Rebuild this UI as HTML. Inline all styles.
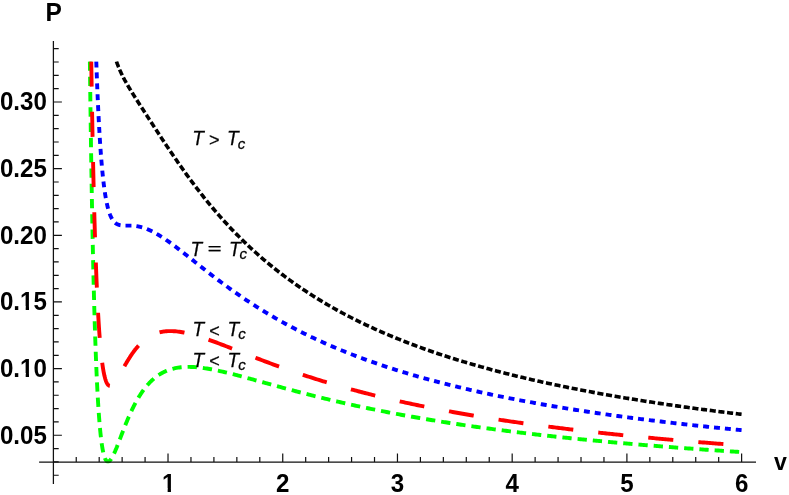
<!DOCTYPE html>
<html><head><meta charset="utf-8"><title>P-v diagram</title>
<style>
html,body{margin:0;padding:0;background:#fff;}
body{width:789px;height:495px;overflow:hidden;}
svg{display:block;will-change:transform;}
text{font-family:"Liberation Sans",sans-serif;fill:#000;}
.tk{font-weight:bold;font-size:24.5px;}
.lb{font-style:italic;font-size:19px;stroke:#000;stroke-width:0.25px;}
.sb{font-size:15px;}
</style></head><body>
<svg width="789" height="495" viewBox="0 0 789 495">
<rect width="789" height="495" fill="#fff"/>
<defs><clipPath id="cp"><rect x="0" y="61.30" width="789" height="402.30"/></clipPath></defs>
<g fill="none" stroke-width="3.9" clip-path="url(#cp)"><g transform="translate(0 0.2)">
<path stroke="#000" stroke-width="3.6" stroke-dasharray="6.1 2.643" d="M116.47 61.30 L116.60 61.67 L116.73 62.03 L116.86 62.39 L116.99 62.74 L117.12 63.10 L117.24 63.45 L117.37 63.79 L117.50 64.13 L117.63 64.47 L117.76 64.81 L117.89 65.15 L118.02 65.48 L118.15 65.80 L118.28 66.13 L118.41 66.45 L118.53 66.77 L118.66 67.09 L118.79 67.41 L118.92 67.72 L119.05 68.03 L119.18 68.34 L119.31 68.64 L119.44 68.94 L119.57 69.24 L119.70 69.54 L119.82 69.84 L119.95 70.13 L120.08 70.42 L120.21 70.71 L120.34 71.00 L120.47 71.29 L120.60 71.57 L120.73 71.85 L120.86 72.14 L120.98 72.41 L121.11 72.69 L121.24 72.97 L121.37 73.24 L121.50 73.51 L121.63 73.78 L121.76 74.05 L121.89 74.31 L122.02 74.58 L122.15 74.84 L122.27 75.11 L122.40 75.37 L122.53 75.63 L122.66 75.88 L122.79 76.14 L122.92 76.40 L123.05 76.65 L123.18 76.90 L123.31 77.15 L123.44 77.40 L123.56 77.65 L123.69 77.90 L123.82 78.15 L123.95 78.39 L124.08 78.64 L124.21 78.88 L124.34 79.12 L124.47 79.36 L124.60 79.60 L124.72 79.84 L124.85 80.08 L124.98 80.32 L125.11 80.55 L125.24 80.79 L125.37 81.02 L125.50 81.26 L125.63 81.49 L125.76 81.72 L125.89 81.95 L126.01 82.18 L126.14 82.41 L126.27 82.64 L126.40 82.87 L126.53 83.10 L126.66 83.32 L126.79 83.55 L126.92 83.77 L127.05 84.00 L127.18 84.22 L127.30 84.45 L127.43 84.67 L127.56 84.89 L127.69 85.11 L127.82 85.33 L127.95 85.55 L128.08 85.77 L128.21 85.99 L128.34 86.21 L128.47 86.43 L128.59 86.64 L128.72 86.86 L128.85 87.08 L128.98 87.29 L129.11 87.51 L129.24 87.72 L129.37 87.94 L129.50 88.15 L129.63 88.37 L129.75 88.58 L129.88 88.79 L130.01 89.01 L130.14 89.22 L130.27 89.43 L130.40 89.64 L130.53 89.85 L130.66 90.06 L130.79 90.27 L130.92 90.48 L131.04 90.69 L131.17 90.90 L131.30 91.11 L131.43 91.32 L131.56 91.53 L131.69 91.74 L131.82 91.94 L131.95 92.15 L132.08 92.36 L132.21 92.57 L132.33 92.77 L132.46 92.98 L132.59 93.19 L132.72 93.39 L132.85 93.60 L132.98 93.80 L133.11 94.01 L133.24 94.21 L133.37 94.42 L133.49 94.62 L133.62 94.83 L133.75 95.03 L133.88 95.24 L134.01 95.44 L134.14 95.64 L134.27 95.85 L134.40 96.05 L134.53 96.26 L134.66 96.46 L134.78 96.66 L134.91 96.86 L135.04 97.07 L135.17 97.27 L135.30 97.47 L135.43 97.67 L135.56 97.88 L135.69 98.08 L135.82 98.28 L135.95 98.48 L136.07 98.68 L136.20 98.89 L136.33 99.09 L136.46 99.29 L136.59 99.49 L136.72 99.69 L136.85 99.89 L136.98 100.09 L137.11 100.30 L137.24 100.50 L137.36 100.70 L137.49 100.90 L137.62 101.10 L137.75 101.30 L137.88 101.50 L138.01 101.70 L138.14 101.90 L138.27 102.10 L138.40 102.30 L138.52 102.50 L138.65 102.70 L138.78 102.90 L138.91 103.10 L139.04 103.30 L139.17 103.50 L139.30 103.70 L139.43 103.90 L139.56 104.10 L139.69 104.30 L139.81 104.50 L139.94 104.70 L140.07 104.90 L140.20 105.10 L140.33 105.30 L140.46 105.50 L140.59 105.70 L140.72 105.90 L140.85 106.09 L140.98 106.29 L141.10 106.49 L141.23 106.69 L141.36 106.89 L141.49 107.09 L141.62 107.29 L141.75 107.49 L141.88 107.69 L142.01 107.89 L142.14 108.09 L142.26 108.29 L142.39 108.48 L142.52 108.68 L142.65 108.88 L142.78 109.08 L142.91 109.28 L143.04 109.48 L143.17 109.68 L143.30 109.88 L143.43 110.08 L143.55 110.27 L143.68 110.47 L143.81 110.67 L143.94 110.87 L144.07 111.07 L144.20 111.27 L144.33 111.47 L144.46 111.67 L144.59 111.87 L144.72 112.06 L144.84 112.26 L144.97 112.46 L145.10 112.66 L145.23 112.86 L145.36 113.06 L145.49 113.26 L145.62 113.46 L145.75 113.65 L145.88 113.85 L146.01 114.05 L146.13 114.25 L146.26 114.45 L146.39 114.65 L146.52 114.85 L146.65 115.04 L146.78 115.24 L146.91 115.44 L147.04 115.64 L147.17 115.84 L147.29 116.04 L147.42 116.24 L147.55 116.43 L147.68 116.63 L147.81 116.83 L147.94 117.03 L148.07 117.23 L148.20 117.43 L148.33 117.63 L148.46 117.82 L148.58 118.02 L148.71 118.22 L148.84 118.42 L148.97 118.62 L149.10 118.82 L149.23 119.02 L149.36 119.21 L149.49 119.41 L149.62 119.61 L149.75 119.81 L149.87 120.01 L150.00 120.21 L150.13 120.40 L150.26 120.60 L150.39 120.80 L150.52 121.00 L150.65 121.20 L150.78 121.40 L150.91 121.59 L151.03 121.79 L151.16 121.99 L151.29 122.19 L151.42 122.39 L151.55 122.59 L151.68 122.78 L151.81 122.98 L151.94 123.18 L152.07 123.38 L152.20 123.58 L152.32 123.78 L152.45 123.97 L152.58 124.17 L152.71 124.37 L152.84 124.57 L152.97 124.77 L153.10 124.96 L153.23 125.16 L153.36 125.36 L153.49 125.56 L153.61 125.76 L153.74 125.95 L153.87 126.15 L154.00 126.35 L154.13 126.55 L154.26 126.74 L154.39 126.94 L154.52 127.14 L154.65 127.34 L154.78 127.54 L154.90 127.73 L155.03 127.93 L155.16 128.13 L155.29 128.33 L155.42 128.52 L155.55 128.72 L155.68 128.92 L155.81 129.12 L155.94 129.31 L156.06 129.51 L156.19 129.71 L156.32 129.91 L156.45 130.10 L156.58 130.30 L156.71 130.50 L156.84 130.70 L156.97 130.89 L157.10 131.09 L157.23 131.29 L157.35 131.48 L157.48 131.68 L157.61 131.88 L157.74 132.08 L157.87 132.27 L158.00 132.47 L158.13 132.67 L158.26 132.86 L158.39 133.06 L158.52 133.26 L158.64 133.45 L158.77 133.65 L158.90 133.85 L159.03 134.04 L159.16 134.24 L159.29 134.44 L159.42 134.63 L159.55 134.83 L159.68 135.02 L159.80 135.22 L159.93 135.42 L160.06 135.61 L160.19 135.81 L160.32 136.01 L160.45 136.20 L160.58 136.40 L160.71 136.59 L160.84 136.79 L160.97 136.99 L161.09 137.18 L161.22 137.38 L161.35 137.57 L161.48 137.77 L161.61 137.96 L161.74 138.16 L161.87 138.36 L162.00 138.55 L162.13 138.75 L162.26 138.94 L162.38 139.14 L162.51 139.33 L162.64 139.53 L162.77 139.72 L162.90 139.92 L163.03 140.11 L163.16 140.31 L163.29 140.50 L163.42 140.70 L163.55 140.89 L163.67 141.09 L163.80 141.28 L163.93 141.48 L164.06 141.67 L164.19 141.86 L164.32 142.06 L164.45 142.25 L164.58 142.45 L164.71 142.64 L164.83 142.84 L164.96 143.03 L165.09 143.22 L165.22 143.42 L165.35 143.61 L165.48 143.81 L165.61 144.00 L165.74 144.19 L165.87 144.39 L166.00 144.58 L166.12 144.77 L166.25 144.97 L166.38 145.16 L166.51 145.35 L166.64 145.55 L166.77 145.74 L166.90 145.93 L167.03 146.13 L167.16 146.32 L167.29 146.51 L167.41 146.70 L167.54 146.90 L167.67 147.09 L167.80 147.28 L167.93 147.47 L169.37 149.61 L170.81 151.74 L172.24 153.86 L173.68 155.97 L175.12 158.06 L176.56 160.15 L177.99 162.22 L179.43 164.28 L180.87 166.32 L182.31 168.35 L183.74 170.37 L185.18 172.38 L186.62 174.37 L188.06 176.34 L189.50 178.30 L190.93 180.25 L192.37 182.18 L193.81 184.09 L195.25 185.99 L196.68 187.87 L198.12 189.74 L199.56 191.60 L201.00 193.43 L202.44 195.26 L203.87 197.06 L205.31 198.85 L206.75 200.63 L208.19 202.39 L209.62 204.13 L211.06 205.86 L212.50 207.58 L213.94 209.27 L215.37 210.96 L216.81 212.62 L218.25 214.28 L219.69 215.91 L221.13 217.54 L222.56 219.15 L224.00 220.74 L225.44 222.32 L226.88 223.88 L228.31 225.43 L229.75 226.97 L231.19 228.49 L232.63 229.99 L234.07 231.49 L235.50 232.97 L236.94 234.43 L238.38 235.88 L239.82 237.32 L241.25 238.75 L242.69 240.16 L244.13 241.56 L245.57 242.94 L247.00 244.32 L248.44 245.68 L249.88 247.02 L251.32 248.36 L252.76 249.68 L254.19 250.99 L255.63 252.29 L257.07 253.58 L258.51 254.85 L259.94 256.12 L261.38 257.37 L262.82 258.61 L264.26 259.84 L265.69 261.06 L267.13 262.27 L268.57 263.46 L270.01 264.65 L271.45 265.82 L272.88 266.99 L274.32 268.14 L275.76 269.28 L277.20 270.42 L278.63 271.54 L280.07 272.65 L281.51 273.76 L282.95 274.85 L284.39 275.93 L285.82 277.01 L287.26 278.07 L288.70 279.13 L290.14 280.17 L291.57 281.21 L293.01 282.24 L294.45 283.26 L295.89 284.27 L297.32 285.27 L298.76 286.27 L300.20 287.25 L301.64 288.23 L303.08 289.20 L304.51 290.16 L305.95 291.11 L307.39 292.05 L308.83 292.99 L310.26 293.92 L311.70 294.84 L313.14 295.75 L314.58 296.66 L316.02 297.55 L317.45 298.44 L318.89 299.33 L320.33 300.20 L321.77 301.07 L323.20 301.93 L324.64 302.79 L326.08 303.64 L327.52 304.48 L328.95 305.31 L330.39 306.14 L331.83 306.96 L333.27 307.77 L334.71 308.58 L336.14 309.38 L337.58 310.18 L339.02 310.97 L340.46 311.75 L341.89 312.52 L343.33 313.30 L344.77 314.06 L346.21 314.82 L347.64 315.57 L349.08 316.32 L350.52 317.06 L351.96 317.79 L353.40 318.52 L354.83 319.25 L356.27 319.97 L357.71 320.68 L359.15 321.39 L360.58 322.09 L362.02 322.79 L363.46 323.48 L364.90 324.17 L366.34 324.85 L367.77 325.53 L369.21 326.20 L370.65 326.87 L372.09 327.53 L373.52 328.19 L374.96 328.84 L376.40 329.49 L377.84 330.13 L379.27 330.77 L380.71 331.40 L382.15 332.03 L383.59 332.66 L385.03 333.28 L386.46 333.89 L387.90 334.51 L389.34 335.11 L390.78 335.72 L392.21 336.32 L393.65 336.91 L395.09 337.50 L396.53 338.09 L397.97 338.67 L399.40 339.25 L400.84 339.82 L402.28 340.39 L403.72 340.96 L405.15 341.52 L406.59 342.08 L408.03 342.64 L409.47 343.19 L410.90 343.74 L412.34 344.28 L413.78 344.82 L415.22 345.36 L416.66 345.89 L418.09 346.42 L419.53 346.95 L420.97 347.47 L422.41 347.99 L423.84 348.51 L425.28 349.02 L426.72 349.53 L428.16 350.03 L429.59 350.54 L431.03 351.04 L432.47 351.53 L433.91 352.02 L435.35 352.51 L436.78 353.00 L438.22 353.49 L439.66 353.97 L441.10 354.44 L442.53 354.92 L443.97 355.39 L445.41 355.86 L446.85 356.32 L448.29 356.79 L449.72 357.25 L451.16 357.70 L452.60 358.16 L454.04 358.61 L455.47 359.06 L456.91 359.50 L458.35 359.95 L459.79 360.39 L461.22 360.82 L462.66 361.26 L464.10 361.69 L465.54 362.12 L466.98 362.55 L468.41 362.97 L469.85 363.40 L471.29 363.82 L472.73 364.23 L474.16 364.65 L475.60 365.06 L477.04 365.47 L478.48 365.88 L479.92 366.28 L481.35 366.68 L482.79 367.09 L484.23 367.48 L485.67 367.88 L487.10 368.27 L488.54 368.66 L489.98 369.05 L491.42 369.44 L492.85 369.82 L494.29 370.21 L495.73 370.59 L497.17 370.96 L498.61 371.34 L500.04 371.71 L501.48 372.08 L502.92 372.45 L504.36 372.82 L505.79 373.19 L507.23 373.55 L508.67 373.91 L510.11 374.27 L511.54 374.63 L512.98 374.98 L514.42 375.34 L515.86 375.69 L517.30 376.04 L518.73 376.39 L520.17 376.73 L521.61 377.08 L523.05 377.42 L524.48 377.76 L525.92 378.10 L527.36 378.43 L528.80 378.77 L530.24 379.10 L531.67 379.43 L533.11 379.76 L534.55 380.09 L535.99 380.41 L537.42 380.74 L538.86 381.06 L540.30 381.38 L541.74 381.70 L543.17 382.02 L544.61 382.33 L546.05 382.65 L547.49 382.96 L548.93 383.27 L550.36 383.58 L551.80 383.89 L553.24 384.20 L554.68 384.50 L556.11 384.80 L557.55 385.10 L558.99 385.40 L560.43 385.70 L561.87 386.00 L563.30 386.30 L564.74 386.59 L566.18 386.88 L567.62 387.17 L569.05 387.46 L570.49 387.75 L571.93 388.04 L573.37 388.32 L574.80 388.61 L576.24 388.89 L577.68 389.17 L579.12 389.45 L580.56 389.73 L581.99 390.00 L583.43 390.28 L584.87 390.55 L586.31 390.83 L587.74 391.10 L589.18 391.37 L590.62 391.64 L592.06 391.91 L593.49 392.17 L594.93 392.44 L596.37 392.70 L597.81 392.96 L599.25 393.22 L600.68 393.49 L602.12 393.74 L603.56 394.00 L605.00 394.26 L606.43 394.51 L607.87 394.77 L609.31 395.02 L610.75 395.27 L612.19 395.52 L613.62 395.77 L615.06 396.02 L616.50 396.27 L617.94 396.51 L619.37 396.76 L620.81 397.00 L622.25 397.24 L623.69 397.48 L625.12 397.73 L626.56 397.96 L628.00 398.20 L629.44 398.44 L630.88 398.68 L632.31 398.91 L633.75 399.14 L635.19 399.38 L636.63 399.61 L638.06 399.84 L639.50 400.07 L640.94 400.30 L642.38 400.53 L643.82 400.75 L645.25 400.98 L646.69 401.20 L648.13 401.43 L649.57 401.65 L651.00 401.87 L652.44 402.09 L653.88 402.31 L655.32 402.53 L656.75 402.75 L658.19 402.96 L659.63 403.18 L661.07 403.40 L662.51 403.61 L663.94 403.82 L665.38 404.03 L666.82 404.25 L668.26 404.46 L669.69 404.67 L671.13 404.87 L672.57 405.08 L674.01 405.29 L675.44 405.50 L676.88 405.70 L678.32 405.90 L679.76 406.11 L681.20 406.31 L682.63 406.51 L684.07 406.71 L685.51 406.91 L686.95 407.11 L688.38 407.31 L689.82 407.51 L691.26 407.70 L692.70 407.90 L694.14 408.10 L695.57 408.29 L697.01 408.48 L698.45 408.68 L699.89 408.87 L701.32 409.06 L702.76 409.25 L704.20 409.44 L705.64 409.63 L707.07 409.82 L708.51 410.00 L709.95 410.19 L711.39 410.38 L712.83 410.56 L714.26 410.74 L715.70 410.93 L717.14 411.11 L718.58 411.29 L720.01 411.47 L721.45 411.65 L722.89 411.83 L724.33 412.01 L725.77 412.19 L727.20 412.37 L728.64 412.55 L730.08 412.72 L731.52 412.90 L732.95 413.07 L734.39 413.25 L735.83 413.42 L737.27 413.60 L738.70 413.77 L740.14 413.94 L741.58 414.11"/>
<path stroke="#0000ff" stroke-dasharray="5.95 4.976" d="M96.28 61.30 L96.46 66.42 L96.64 71.38 L96.82 76.20 L97.00 80.87 L97.18 85.40 L97.36 89.80 L97.54 94.06 L97.72 98.20 L97.90 102.21 L98.08 106.11 L98.26 109.88 L98.44 113.55 L98.62 117.10 L98.80 120.55 L98.98 123.90 L99.16 127.14 L99.34 130.29 L99.52 133.34 L99.69 136.31 L99.87 139.18 L100.05 141.97 L100.23 144.67 L100.41 147.29 L100.59 149.84 L100.77 152.30 L100.95 154.70 L101.13 157.02 L101.31 159.27 L101.49 161.45 L101.67 163.57 L101.85 165.62 L102.03 167.61 L102.21 169.54 L102.39 171.42 L102.57 173.23 L102.75 174.99 L102.93 176.70 L103.11 178.35 L103.29 179.95 L103.47 181.51 L103.65 183.01 L103.82 184.47 L104.00 185.89 L104.18 187.26 L104.36 188.59 L104.54 189.88 L104.72 191.13 L104.90 192.34 L105.08 193.51 L105.26 194.64 L105.44 195.74 L105.62 196.81 L105.80 197.84 L105.98 198.84 L106.16 199.80 L106.34 200.74 L106.52 201.65 L106.70 202.52 L106.88 203.37 L107.06 204.19 L107.24 204.99 L107.42 205.76 L107.60 206.50 L107.78 207.22 L107.95 207.92 L108.13 208.60 L108.31 209.25 L108.49 209.88 L108.67 210.49 L108.85 211.08 L109.03 211.64 L109.21 212.19 L109.39 212.73 L109.57 213.24 L109.75 213.74 L109.93 214.21 L110.11 214.68 L110.29 215.12 L110.47 215.55 L110.65 215.97 L110.83 216.37 L111.01 216.76 L111.19 217.13 L111.37 217.49 L111.55 217.84 L111.73 218.17 L111.91 218.49 L112.08 218.81 L112.26 219.10 L112.44 219.39 L112.62 219.67 L112.80 219.94 L112.98 220.19 L113.16 220.44 L113.34 220.68 L113.52 220.91 L113.70 221.12 L113.88 221.34 L114.06 221.54 L114.24 221.73 L114.42 221.92 L114.60 222.10 L114.78 222.27 L114.96 222.43 L115.14 222.59 L115.32 222.74 L115.50 222.89 L115.68 223.02 L115.86 223.16 L116.04 223.28 L116.21 223.40 L116.39 223.52 L116.57 223.63 L116.75 223.74 L116.93 223.84 L117.11 223.93 L117.29 224.02 L117.47 224.11 L117.65 224.19 L117.83 224.27 L118.01 224.34 L118.19 224.42 L118.37 224.48 L118.55 224.55 L118.73 224.61 L118.91 224.66 L119.09 224.72 L119.27 224.77 L119.45 224.82 L119.63 224.86 L119.81 224.90 L119.99 224.94 L120.17 224.98 L120.34 225.02 L120.52 225.05 L120.70 225.08 L120.88 225.11 L121.06 225.14 L121.24 225.16 L121.42 225.18 L121.60 225.20 L121.78 225.22 L121.96 225.24 L122.14 225.26 L122.32 225.28 L122.50 225.29 L122.68 225.30 L122.86 225.31 L123.04 225.32 L123.22 225.33 L123.40 225.34 L123.58 225.35 L123.76 225.36 L123.94 225.36 L124.12 225.37 L124.30 225.37 L124.47 225.38 L124.65 225.38 L124.83 225.38 L125.01 225.39 L125.19 225.39 L125.37 225.39 L125.55 225.39 L125.73 225.39 L125.91 225.39 L126.09 225.39 L126.27 225.39 L126.45 225.39 L126.63 225.40 L126.81 225.40 L126.99 225.40 L127.17 225.40 L127.35 225.40 L127.53 225.40 L127.71 225.40 L127.89 225.40 L128.07 225.40 L128.25 225.40 L128.43 225.40 L128.61 225.40 L128.78 225.40 L128.96 225.40 L129.14 225.40 L129.32 225.41 L129.50 225.41 L129.68 225.41 L129.86 225.41 L130.04 225.42 L130.22 225.42 L130.40 225.43 L130.58 225.43 L130.76 225.44 L130.94 225.44 L131.12 225.45 L131.30 225.46 L131.48 225.46 L131.66 225.47 L131.84 225.48 L132.02 225.49 L132.20 225.50 L132.38 225.51 L132.56 225.52 L132.74 225.53 L132.91 225.55 L133.09 225.56 L133.27 225.57 L133.45 225.59 L133.63 225.60 L133.81 225.62 L133.99 225.63 L134.17 225.65 L134.35 225.67 L134.53 225.69 L134.71 225.71 L134.89 225.73 L135.07 225.75 L135.25 225.77 L135.43 225.79 L135.61 225.81 L135.79 225.84 L135.97 225.86 L136.15 225.89 L136.33 225.91 L136.51 225.94 L136.69 225.97 L136.87 226.00 L137.04 226.03 L137.22 226.05 L137.40 226.09 L137.58 226.12 L137.76 226.15 L137.94 226.18 L138.12 226.22 L138.30 226.25 L138.48 226.29 L138.66 226.32 L138.84 226.36 L139.02 226.40 L139.20 226.43 L139.38 226.47 L139.56 226.51 L139.74 226.56 L139.92 226.60 L140.10 226.64 L140.28 226.68 L140.46 226.73 L140.64 226.77 L140.82 226.82 L141.00 226.86 L141.17 226.91 L141.35 226.96 L141.53 227.01 L141.71 227.06 L141.89 227.11 L142.07 227.16 L142.25 227.21 L142.43 227.26 L142.61 227.32 L142.79 227.37 L142.97 227.43 L143.15 227.48 L143.33 227.54 L143.51 227.60 L143.69 227.65 L143.87 227.71 L144.05 227.77 L144.23 227.83 L144.41 227.89 L144.59 227.96 L144.77 228.02 L144.95 228.08 L145.13 228.15 L145.30 228.21 L145.48 228.28 L145.66 228.34 L145.84 228.41 L146.02 228.48 L146.20 228.54 L146.38 228.61 L146.56 228.68 L146.74 228.75 L146.92 228.83 L147.10 228.90 L147.28 228.97 L147.46 229.04 L147.64 229.12 L147.82 229.19 L148.00 229.27 L148.18 229.34 L148.36 229.42 L148.54 229.50 L148.72 229.58 L148.90 229.65 L149.08 229.73 L149.26 229.81 L149.43 229.89 L149.61 229.98 L149.79 230.06 L149.97 230.14 L150.15 230.22 L150.33 230.31 L150.51 230.39 L150.69 230.48 L150.87 230.56 L151.05 230.65 L151.23 230.74 L151.41 230.82 L151.59 230.91 L151.77 231.00 L151.95 231.09 L152.13 231.18 L152.31 231.27 L152.49 231.36 L152.67 231.45 L152.85 231.55 L153.03 231.64 L153.21 231.73 L153.39 231.83 L153.56 231.92 L153.74 232.02 L153.92 232.11 L154.10 232.21 L154.28 232.30 L154.46 232.40 L154.64 232.50 L154.82 232.60 L155.00 232.70 L155.18 232.80 L155.36 232.90 L155.54 233.00 L155.72 233.10 L155.90 233.20 L156.08 233.30 L156.26 233.40 L156.44 233.51 L156.62 233.61 L156.80 233.71 L156.98 233.82 L157.16 233.92 L157.34 234.03 L157.52 234.13 L157.69 234.24 L157.87 234.35 L158.05 234.45 L158.23 234.56 L158.41 234.67 L158.59 234.78 L158.77 234.89 L158.95 235.00 L159.13 235.11 L159.31 235.22 L159.49 235.33 L159.67 235.44 L159.85 235.55 L160.03 235.66 L160.21 235.77 L160.39 235.89 L160.57 236.00 L160.75 236.11 L160.93 236.23 L161.11 236.34 L161.29 236.46 L161.47 236.57 L161.65 236.69 L161.82 236.80 L162.00 236.92 L162.18 237.04 L162.36 237.15 L162.54 237.27 L162.72 237.39 L162.90 237.51 L163.08 237.63 L163.26 237.74 L163.44 237.86 L163.62 237.98 L163.80 238.10 L163.98 238.22 L164.16 238.34 L164.34 238.46 L164.52 238.59 L164.70 238.71 L164.88 238.83 L165.06 238.95 L165.24 239.07 L165.42 239.20 L165.60 239.32 L165.78 239.44 L165.95 239.57 L166.13 239.69 L166.31 239.82 L166.49 239.94 L166.67 240.06 L166.85 240.19 L167.03 240.32 L167.21 240.44 L167.39 240.57 L167.57 240.69 L167.75 240.82 L167.93 240.95 L169.37 241.97 L170.81 243.01 L172.24 244.07 L173.68 245.14 L175.12 246.21 L176.56 247.30 L177.99 248.40 L179.43 249.51 L180.87 250.62 L182.31 251.75 L183.74 252.87 L185.18 254.00 L186.62 255.14 L188.06 256.27 L189.50 257.41 L190.93 258.55 L192.37 259.69 L193.81 260.83 L195.25 261.98 L196.68 263.12 L198.12 264.26 L199.56 265.40 L201.00 266.53 L202.44 267.66 L203.87 268.79 L205.31 269.92 L206.75 271.05 L208.19 272.17 L209.62 273.28 L211.06 274.39 L212.50 275.50 L213.94 276.60 L215.37 277.70 L216.81 278.79 L218.25 279.88 L219.69 280.96 L221.13 282.04 L222.56 283.10 L224.00 284.17 L225.44 285.23 L226.88 286.28 L228.31 287.32 L229.75 288.36 L231.19 289.40 L232.63 290.42 L234.07 291.44 L235.50 292.45 L236.94 293.46 L238.38 294.46 L239.82 295.45 L241.25 296.44 L242.69 297.42 L244.13 298.39 L245.57 299.36 L247.00 300.32 L248.44 301.27 L249.88 302.22 L251.32 303.16 L252.76 304.09 L254.19 305.02 L255.63 305.94 L257.07 306.85 L258.51 307.76 L259.94 308.66 L261.38 309.55 L262.82 310.44 L264.26 311.32 L265.69 312.19 L267.13 313.06 L268.57 313.92 L270.01 314.77 L271.45 315.62 L272.88 316.46 L274.32 317.30 L275.76 318.13 L277.20 318.95 L278.63 319.77 L280.07 320.58 L281.51 321.38 L282.95 322.18 L284.39 322.97 L285.82 323.76 L287.26 324.54 L288.70 325.31 L290.14 326.08 L291.57 326.85 L293.01 327.60 L294.45 328.35 L295.89 329.10 L297.32 329.84 L298.76 330.58 L300.20 331.30 L301.64 332.03 L303.08 332.75 L304.51 333.46 L305.95 334.17 L307.39 334.87 L308.83 335.57 L310.26 336.26 L311.70 336.94 L313.14 337.63 L314.58 338.30 L316.02 338.97 L317.45 339.64 L318.89 340.30 L320.33 340.96 L321.77 341.61 L323.20 342.26 L324.64 342.90 L326.08 343.54 L327.52 344.17 L328.95 344.80 L330.39 345.42 L331.83 346.04 L333.27 346.66 L334.71 347.27 L336.14 347.87 L337.58 348.48 L339.02 349.07 L340.46 349.67 L341.89 350.26 L343.33 350.84 L344.77 351.42 L346.21 352.00 L347.64 352.57 L349.08 353.14 L350.52 353.70 L351.96 354.26 L353.40 354.82 L354.83 355.37 L356.27 355.92 L357.71 356.46 L359.15 357.00 L360.58 357.54 L362.02 358.07 L363.46 358.60 L364.90 359.13 L366.34 359.65 L367.77 360.17 L369.21 360.69 L370.65 361.20 L372.09 361.71 L373.52 362.21 L374.96 362.71 L376.40 363.21 L377.84 363.70 L379.27 364.20 L380.71 364.68 L382.15 365.17 L383.59 365.65 L385.03 366.13 L386.46 366.60 L387.90 367.07 L389.34 367.54 L390.78 368.01 L392.21 368.47 L393.65 368.93 L395.09 369.39 L396.53 369.84 L397.97 370.29 L399.40 370.74 L400.84 371.18 L402.28 371.63 L403.72 372.07 L405.15 372.50 L406.59 372.94 L408.03 373.37 L409.47 373.79 L410.90 374.22 L412.34 374.64 L413.78 375.06 L415.22 375.48 L416.66 375.89 L418.09 376.31 L419.53 376.71 L420.97 377.12 L422.41 377.53 L423.84 377.93 L425.28 378.33 L426.72 378.72 L428.16 379.12 L429.59 379.51 L431.03 379.90 L432.47 380.29 L433.91 380.67 L435.35 381.05 L436.78 381.43 L438.22 381.81 L439.66 382.19 L441.10 382.56 L442.53 382.93 L443.97 383.30 L445.41 383.67 L446.85 384.03 L448.29 384.39 L449.72 384.75 L451.16 385.11 L452.60 385.47 L454.04 385.82 L455.47 386.17 L456.91 386.52 L458.35 386.87 L459.79 387.22 L461.22 387.56 L462.66 387.90 L464.10 388.24 L465.54 388.58 L466.98 388.91 L468.41 389.25 L469.85 389.58 L471.29 389.91 L472.73 390.24 L474.16 390.56 L475.60 390.89 L477.04 391.21 L478.48 391.53 L479.92 391.85 L481.35 392.17 L482.79 392.48 L484.23 392.79 L485.67 393.11 L487.10 393.42 L488.54 393.72 L489.98 394.03 L491.42 394.34 L492.85 394.64 L494.29 394.94 L495.73 395.24 L497.17 395.54 L498.61 395.84 L500.04 396.13 L501.48 396.42 L502.92 396.72 L504.36 397.01 L505.79 397.30 L507.23 397.58 L508.67 397.87 L510.11 398.15 L511.54 398.43 L512.98 398.72 L514.42 399.00 L515.86 399.27 L517.30 399.55 L518.73 399.83 L520.17 400.10 L521.61 400.37 L523.05 400.64 L524.48 400.91 L525.92 401.18 L527.36 401.45 L528.80 401.71 L530.24 401.98 L531.67 402.24 L533.11 402.50 L534.55 402.76 L535.99 403.02 L537.42 403.28 L538.86 403.53 L540.30 403.79 L541.74 404.04 L543.17 404.29 L544.61 404.54 L546.05 404.79 L547.49 405.04 L548.93 405.29 L550.36 405.53 L551.80 405.78 L553.24 406.02 L554.68 406.26 L556.11 406.50 L557.55 406.74 L558.99 406.98 L560.43 407.22 L561.87 407.46 L563.30 407.69 L564.74 407.92 L566.18 408.16 L567.62 408.39 L569.05 408.62 L570.49 408.85 L571.93 409.08 L573.37 409.30 L574.80 409.53 L576.24 409.76 L577.68 409.98 L579.12 410.20 L580.56 410.42 L581.99 410.65 L583.43 410.86 L584.87 411.08 L586.31 411.30 L587.74 411.52 L589.18 411.73 L590.62 411.95 L592.06 412.16 L593.49 412.37 L594.93 412.59 L596.37 412.80 L597.81 413.01 L599.25 413.21 L600.68 413.42 L602.12 413.63 L603.56 413.83 L605.00 414.04 L606.43 414.24 L607.87 414.45 L609.31 414.65 L610.75 414.85 L612.19 415.05 L613.62 415.25 L615.06 415.45 L616.50 415.65 L617.94 415.84 L619.37 416.04 L620.81 416.23 L622.25 416.43 L623.69 416.62 L625.12 416.81 L626.56 417.00 L628.00 417.19 L629.44 417.38 L630.88 417.57 L632.31 417.76 L633.75 417.95 L635.19 418.13 L636.63 418.32 L638.06 418.50 L639.50 418.69 L640.94 418.87 L642.38 419.05 L643.82 419.24 L645.25 419.42 L646.69 419.60 L648.13 419.78 L649.57 419.95 L651.00 420.13 L652.44 420.31 L653.88 420.48 L655.32 420.66 L656.75 420.84 L658.19 421.01 L659.63 421.18 L661.07 421.35 L662.51 421.53 L663.94 421.70 L665.38 421.87 L666.82 422.04 L668.26 422.21 L669.69 422.37 L671.13 422.54 L672.57 422.71 L674.01 422.87 L675.44 423.04 L676.88 423.20 L678.32 423.37 L679.76 423.53 L681.20 423.69 L682.63 423.86 L684.07 424.02 L685.51 424.18 L686.95 424.34 L688.38 424.50 L689.82 424.66 L691.26 424.82 L692.70 424.97 L694.14 425.13 L695.57 425.29 L697.01 425.44 L698.45 425.60 L699.89 425.75 L701.32 425.90 L702.76 426.06 L704.20 426.21 L705.64 426.36 L707.07 426.51 L708.51 426.66 L709.95 426.81 L711.39 426.96 L712.83 427.11 L714.26 427.26 L715.70 427.41 L717.14 427.56 L718.58 427.70 L720.01 427.85 L721.45 427.99 L722.89 428.14 L724.33 428.28 L725.77 428.43 L727.20 428.57 L728.64 428.71 L730.08 428.85 L731.52 429.00 L732.95 429.14 L734.39 429.28 L735.83 429.42 L737.27 429.56 L738.70 429.70 L740.14 429.83 L741.58 429.97"/>
<path stroke="#00ff00" stroke-dasharray="9.3 5.98" d="M89.87 61.30 L90.07 77.10 L90.26 92.33 L90.46 107.01 L90.65 121.15 L90.85 134.78 L91.04 147.92 L91.24 160.58 L91.44 172.78 L91.63 184.53 L91.83 195.86 L92.02 206.77 L92.22 217.29 L92.41 227.42 L92.61 237.19 L92.81 246.59 L93.00 255.65 L93.20 264.38 L93.39 272.79 L93.59 280.89 L93.78 288.70 L93.98 296.21 L94.17 303.44 L94.37 310.41 L94.57 317.12 L94.76 323.58 L94.96 329.79 L95.15 335.77 L95.35 341.53 L95.54 347.07 L95.74 352.40 L95.94 357.53 L96.13 362.46 L96.33 367.20 L96.52 371.76 L96.72 376.14 L96.91 380.35 L97.11 384.39 L97.30 388.28 L97.50 392.01 L97.70 395.59 L97.89 399.03 L98.09 402.33 L98.28 405.50 L98.48 408.53 L98.67 411.44 L98.87 414.23 L99.07 416.90 L99.26 419.46 L99.46 421.91 L99.65 424.25 L99.85 426.49 L100.04 428.64 L100.24 430.68 L100.44 432.64 L100.63 434.50 L100.83 436.28 L101.02 437.97 L101.22 439.59 L101.41 441.12 L101.61 442.58 L101.80 443.97 L102.00 445.29 L102.20 446.54 L102.39 447.72 L102.59 448.84 L102.78 449.90 L102.98 450.90 L103.17 451.84 L103.37 452.73 L103.57 453.56 L103.76 454.34 L103.96 455.07 L104.15 455.75 L104.35 456.39 L104.54 456.98 L104.74 457.52 L104.93 458.03 L105.13 458.49 L105.33 458.92 L105.52 459.30 L105.72 459.65 L105.91 459.97 L106.11 460.25 L106.30 460.49 L106.50 460.71 L106.70 460.89 L106.89 461.05 L107.09 461.18 L107.28 461.28 L107.48 461.35 L107.67 461.39 L107.87 461.42 L108.07 461.41 L108.26 461.39 L108.46 461.34 L108.65 461.27 L108.85 461.18 L109.04 461.07 L109.24 460.94 L109.43 460.80 L109.63 460.63 L109.83 460.45 L110.02 460.25 L110.22 460.04 L110.41 459.81 L110.61 459.56 L110.80 459.31 L111.00 459.04 L111.20 458.75 L111.39 458.45 L111.59 458.15 L111.78 457.83 L111.98 457.49 L112.17 457.15 L112.37 456.80 L112.56 456.44 L112.76 456.07 L112.96 455.69 L113.15 455.30 L113.35 454.91 L113.54 454.50 L113.74 454.09 L113.93 453.67 L114.13 453.25 L114.33 452.82 L114.52 452.38 L114.72 451.94 L114.91 451.49 L115.11 451.04 L115.30 450.58 L115.50 450.11 L115.69 449.65 L115.89 449.18 L116.09 448.70 L116.28 448.22 L116.48 447.74 L116.67 447.25 L116.87 446.77 L117.06 446.27 L117.26 445.78 L117.46 445.28 L117.65 444.79 L117.85 444.28 L118.04 443.78 L118.24 443.28 L118.43 442.77 L118.63 442.27 L118.83 441.76 L119.02 441.25 L119.22 440.74 L119.41 440.23 L119.61 439.72 L119.80 439.20 L120.00 438.69 L120.19 438.18 L120.39 437.67 L120.59 437.15 L120.78 436.64 L120.98 436.13 L121.17 435.62 L121.37 435.10 L121.56 434.59 L121.76 434.08 L121.96 433.57 L122.15 433.06 L122.35 432.55 L122.54 432.04 L122.74 431.54 L122.93 431.03 L123.13 430.53 L123.32 430.02 L123.52 429.52 L123.72 429.02 L123.91 428.52 L124.11 428.02 L124.30 427.53 L124.50 427.03 L124.69 426.54 L124.89 426.05 L125.09 425.56 L125.28 425.07 L125.48 424.58 L125.67 424.10 L125.87 423.61 L126.06 423.13 L126.26 422.65 L126.45 422.18 L126.65 421.70 L126.85 421.23 L127.04 420.76 L127.24 420.29 L127.43 419.82 L127.63 419.36 L127.82 418.90 L128.02 418.44 L128.22 417.98 L128.41 417.52 L128.61 417.07 L128.80 416.62 L129.00 416.17 L129.19 415.72 L129.39 415.28 L129.59 414.84 L129.78 414.40 L129.98 413.96 L130.17 413.53 L130.37 413.10 L130.56 412.67 L130.76 412.24 L130.95 411.82 L131.15 411.40 L131.35 410.98 L131.54 410.56 L131.74 410.14 L131.93 409.73 L132.13 409.32 L132.32 408.92 L132.52 408.51 L132.72 408.11 L132.91 407.71 L133.11 407.31 L133.30 406.92 L133.50 406.53 L133.69 406.14 L133.89 405.75 L134.08 405.37 L134.28 404.99 L134.48 404.61 L134.67 404.23 L134.87 403.86 L135.06 403.49 L135.26 403.12 L135.45 402.75 L135.65 402.39 L135.85 402.03 L136.04 401.67 L136.24 401.31 L136.43 400.96 L136.63 400.61 L136.82 400.26 L137.02 399.91 L137.21 399.57 L137.41 399.22 L137.61 398.89 L137.80 398.55 L138.00 398.22 L138.19 397.88 L138.39 397.55 L138.58 397.23 L138.78 396.90 L138.98 396.58 L139.17 396.26 L139.37 395.95 L139.56 395.63 L139.76 395.32 L139.95 395.01 L140.15 394.70 L140.35 394.40 L140.54 394.09 L140.74 393.79 L140.93 393.50 L141.13 393.20 L141.32 392.91 L141.52 392.62 L141.71 392.33 L141.91 392.04 L142.11 391.76 L142.30 391.47 L142.50 391.19 L142.69 390.92 L142.89 390.64 L143.08 390.37 L143.28 390.10 L143.48 389.83 L143.67 389.56 L143.87 389.30 L144.06 389.04 L144.26 388.78 L144.45 388.52 L144.65 388.26 L144.84 388.01 L145.04 387.76 L145.24 387.51 L145.43 387.26 L145.63 387.02 L145.82 386.77 L146.02 386.53 L146.21 386.29 L146.41 386.06 L146.61 385.82 L146.80 385.59 L147.00 385.36 L147.19 385.13 L147.39 384.90 L147.58 384.68 L147.78 384.46 L147.98 384.24 L148.17 384.02 L148.37 383.80 L148.56 383.58 L148.76 383.37 L148.95 383.16 L149.15 382.95 L149.34 382.74 L149.54 382.54 L149.74 382.33 L149.93 382.13 L150.13 381.93 L150.32 381.73 L150.52 381.54 L150.71 381.34 L150.91 381.15 L151.11 380.96 L151.30 380.77 L151.50 380.58 L151.69 380.40 L151.89 380.21 L152.08 380.03 L152.28 379.85 L152.47 379.67 L152.67 379.49 L152.87 379.32 L153.06 379.14 L153.26 378.97 L153.45 378.80 L153.65 378.63 L153.84 378.46 L154.04 378.30 L154.24 378.13 L154.43 377.97 L154.63 377.81 L154.82 377.65 L155.02 377.49 L155.21 377.34 L155.41 377.18 L155.60 377.03 L155.80 376.88 L156.00 376.73 L156.19 376.58 L156.39 376.43 L156.58 376.29 L156.78 376.14 L156.97 376.00 L157.17 375.86 L157.37 375.72 L157.56 375.58 L157.76 375.45 L157.95 375.31 L158.15 375.18 L158.34 375.04 L158.54 374.91 L158.74 374.78 L158.93 374.65 L159.13 374.53 L159.32 374.40 L159.52 374.28 L159.71 374.15 L159.91 374.03 L160.10 373.91 L160.30 373.79 L160.50 373.68 L160.69 373.56 L160.89 373.44 L161.08 373.33 L161.28 373.22 L161.47 373.11 L161.67 373.00 L161.87 372.89 L162.06 372.78 L162.26 372.67 L162.45 372.57 L162.65 372.47 L162.84 372.36 L163.04 372.26 L163.23 372.16 L163.43 372.06 L163.63 371.96 L163.82 371.87 L164.02 371.77 L164.21 371.68 L164.41 371.58 L164.60 371.49 L164.80 371.40 L165.00 371.31 L165.19 371.22 L165.39 371.13 L165.58 371.05 L165.78 370.96 L165.97 370.88 L166.17 370.79 L166.36 370.71 L166.56 370.63 L166.76 370.55 L166.95 370.47 L167.15 370.39 L167.34 370.32 L167.54 370.24 L167.73 370.16 L167.93 370.09 L169.37 369.57 L170.81 369.11 L172.24 368.70 L173.68 368.33 L175.12 368.00 L176.56 367.72 L177.99 367.47 L179.43 367.27 L180.87 367.09 L182.31 366.96 L183.74 366.85 L185.18 366.77 L186.62 366.73 L188.06 366.71 L189.50 366.71 L190.93 366.74 L192.37 366.79 L193.81 366.87 L195.25 366.96 L196.68 367.07 L198.12 367.21 L199.56 367.36 L201.00 367.52 L202.44 367.70 L203.87 367.90 L205.31 368.11 L206.75 368.33 L208.19 368.57 L209.62 368.82 L211.06 369.08 L212.50 369.35 L213.94 369.62 L215.37 369.91 L216.81 370.21 L218.25 370.51 L219.69 370.83 L221.13 371.14 L222.56 371.47 L224.00 371.80 L225.44 372.14 L226.88 372.49 L228.31 372.83 L229.75 373.19 L231.19 373.55 L232.63 373.91 L234.07 374.27 L235.50 374.64 L236.94 375.02 L238.38 375.39 L239.82 375.77 L241.25 376.15 L242.69 376.54 L244.13 376.92 L245.57 377.31 L247.00 377.70 L248.44 378.09 L249.88 378.48 L251.32 378.87 L252.76 379.27 L254.19 379.66 L255.63 380.06 L257.07 380.46 L258.51 380.85 L259.94 381.25 L261.38 381.65 L262.82 382.05 L264.26 382.44 L265.69 382.84 L267.13 383.24 L268.57 383.63 L270.01 384.03 L271.45 384.43 L272.88 384.82 L274.32 385.22 L275.76 385.61 L277.20 386.01 L278.63 386.40 L280.07 386.79 L281.51 387.18 L282.95 387.57 L284.39 387.96 L285.82 388.35 L287.26 388.74 L288.70 389.12 L290.14 389.51 L291.57 389.89 L293.01 390.28 L294.45 390.66 L295.89 391.04 L297.32 391.41 L298.76 391.79 L300.20 392.17 L301.64 392.54 L303.08 392.91 L304.51 393.29 L305.95 393.66 L307.39 394.02 L308.83 394.39 L310.26 394.76 L311.70 395.12 L313.14 395.48 L314.58 395.84 L316.02 396.20 L317.45 396.56 L318.89 396.91 L320.33 397.27 L321.77 397.62 L323.20 397.97 L324.64 398.32 L326.08 398.67 L327.52 399.01 L328.95 399.36 L330.39 399.70 L331.83 400.04 L333.27 400.38 L334.71 400.72 L336.14 401.06 L337.58 401.39 L339.02 401.72 L340.46 402.05 L341.89 402.38 L343.33 402.71 L344.77 403.04 L346.21 403.36 L347.64 403.68 L349.08 404.01 L350.52 404.33 L351.96 404.64 L353.40 404.96 L354.83 405.27 L356.27 405.59 L357.71 405.90 L359.15 406.21 L360.58 406.52 L362.02 406.82 L363.46 407.13 L364.90 407.43 L366.34 407.73 L367.77 408.03 L369.21 408.33 L370.65 408.63 L372.09 408.92 L373.52 409.22 L374.96 409.51 L376.40 409.80 L377.84 410.09 L379.27 410.38 L380.71 410.66 L382.15 410.95 L383.59 411.23 L385.03 411.51 L386.46 411.79 L387.90 412.07 L389.34 412.35 L390.78 412.62 L392.21 412.90 L393.65 413.17 L395.09 413.44 L396.53 413.71 L397.97 413.98 L399.40 414.25 L400.84 414.51 L402.28 414.78 L403.72 415.04 L405.15 415.30 L406.59 415.56 L408.03 415.82 L409.47 416.08 L410.90 416.33 L412.34 416.59 L413.78 416.84 L415.22 417.09 L416.66 417.34 L418.09 417.59 L419.53 417.84 L420.97 418.09 L422.41 418.33 L423.84 418.58 L425.28 418.82 L426.72 419.06 L428.16 419.30 L429.59 419.54 L431.03 419.78 L432.47 420.01 L433.91 420.25 L435.35 420.48 L436.78 420.72 L438.22 420.95 L439.66 421.18 L441.10 421.41 L442.53 421.64 L443.97 421.86 L445.41 422.09 L446.85 422.31 L448.29 422.54 L449.72 422.76 L451.16 422.98 L452.60 423.20 L454.04 423.42 L455.47 423.64 L456.91 423.85 L458.35 424.07 L459.79 424.28 L461.22 424.50 L462.66 424.71 L464.10 424.92 L465.54 425.13 L466.98 425.34 L468.41 425.55 L469.85 425.75 L471.29 425.96 L472.73 426.16 L474.16 426.37 L475.60 426.57 L477.04 426.77 L478.48 426.97 L479.92 427.17 L481.35 427.37 L482.79 427.57 L484.23 427.76 L485.67 427.96 L487.10 428.16 L488.54 428.35 L489.98 428.54 L491.42 428.73 L492.85 428.93 L494.29 429.12 L495.73 429.30 L497.17 429.49 L498.61 429.68 L500.04 429.87 L501.48 430.05 L502.92 430.24 L504.36 430.42 L505.79 430.60 L507.23 430.79 L508.67 430.97 L510.11 431.15 L511.54 431.33 L512.98 431.50 L514.42 431.68 L515.86 431.86 L517.30 432.03 L518.73 432.21 L520.17 432.38 L521.61 432.56 L523.05 432.73 L524.48 432.90 L525.92 433.07 L527.36 433.24 L528.80 433.41 L530.24 433.58 L531.67 433.75 L533.11 433.92 L534.55 434.08 L535.99 434.25 L537.42 434.41 L538.86 434.58 L540.30 434.74 L541.74 434.90 L543.17 435.06 L544.61 435.22 L546.05 435.38 L547.49 435.54 L548.93 435.70 L550.36 435.86 L551.80 436.02 L553.24 436.17 L554.68 436.33 L556.11 436.49 L557.55 436.64 L558.99 436.79 L560.43 436.95 L561.87 437.10 L563.30 437.25 L564.74 437.40 L566.18 437.55 L567.62 437.70 L569.05 437.85 L570.49 438.00 L571.93 438.15 L573.37 438.29 L574.80 438.44 L576.24 438.59 L577.68 438.73 L579.12 438.88 L580.56 439.02 L581.99 439.16 L583.43 439.30 L584.87 439.45 L586.31 439.59 L587.74 439.73 L589.18 439.87 L590.62 440.01 L592.06 440.15 L593.49 440.29 L594.93 440.42 L596.37 440.56 L597.81 440.70 L599.25 440.83 L600.68 440.97 L602.12 441.10 L603.56 441.24 L605.00 441.37 L606.43 441.50 L607.87 441.64 L609.31 441.77 L610.75 441.90 L612.19 442.03 L613.62 442.16 L615.06 442.29 L616.50 442.42 L617.94 442.55 L619.37 442.67 L620.81 442.80 L622.25 442.93 L623.69 443.06 L625.12 443.18 L626.56 443.31 L628.00 443.43 L629.44 443.56 L630.88 443.68 L632.31 443.80 L633.75 443.93 L635.19 444.05 L636.63 444.17 L638.06 444.29 L639.50 444.41 L640.94 444.53 L642.38 444.65 L643.82 444.77 L645.25 444.89 L646.69 445.01 L648.13 445.13 L649.57 445.24 L651.00 445.36 L652.44 445.48 L653.88 445.59 L655.32 445.71 L656.75 445.82 L658.19 445.94 L659.63 446.05 L661.07 446.17 L662.51 446.28 L663.94 446.39 L665.38 446.51 L666.82 446.62 L668.26 446.73 L669.69 446.84 L671.13 446.95 L672.57 447.06 L674.01 447.17 L675.44 447.28 L676.88 447.39 L678.32 447.50 L679.76 447.61 L681.20 447.71 L682.63 447.82 L684.07 447.93 L685.51 448.03 L686.95 448.14 L688.38 448.25 L689.82 448.35 L691.26 448.46 L692.70 448.56 L694.14 448.66 L695.57 448.77 L697.01 448.87 L698.45 448.97 L699.89 449.08 L701.32 449.18 L702.76 449.28 L704.20 449.38 L705.64 449.48 L707.07 449.58 L708.51 449.68 L709.95 449.78 L711.39 449.88 L712.83 449.98 L714.26 450.08 L715.70 450.18 L717.14 450.28 L718.58 450.37 L720.01 450.47 L721.45 450.57 L722.89 450.66 L724.33 450.76 L725.77 450.85 L727.20 450.95 L728.64 451.05 L730.08 451.14 L731.52 451.23 L732.95 451.33 L734.39 451.42 L735.83 451.52 L737.27 451.61 L738.70 451.70 L740.14 451.79 L741.58 451.89"/>
<path stroke="#ff0000" stroke-dasharray="25.13 25.14" d="M91.26 61.30 L91.45 73.56 L91.64 85.38 L91.83 96.80 L92.02 107.82 L92.22 118.45 L92.41 128.72 L92.60 138.63 L92.79 148.19 L92.98 157.42 L93.18 166.32 L93.37 174.92 L93.56 183.21 L93.75 191.22 L93.95 198.94 L94.14 206.40 L94.33 213.59 L94.52 220.53 L94.71 227.23 L94.91 233.69 L95.10 239.92 L95.29 245.93 L95.48 251.73 L95.68 257.32 L95.87 262.72 L96.06 267.92 L96.25 272.93 L96.44 277.77 L96.64 282.43 L96.83 286.93 L97.02 291.26 L97.21 295.43 L97.40 299.45 L97.60 303.33 L97.79 307.06 L97.98 310.65 L98.17 314.12 L98.37 317.45 L98.56 320.66 L98.75 323.75 L98.94 326.72 L99.13 329.57 L99.33 332.32 L99.52 334.97 L99.71 337.51 L99.90 339.95 L100.09 342.30 L100.29 344.55 L100.48 346.72 L100.67 348.80 L100.86 350.79 L101.06 352.71 L101.25 354.54 L101.44 356.30 L101.63 357.98 L101.82 359.60 L102.02 361.14 L102.21 362.62 L102.40 364.04 L102.59 365.39 L102.79 366.68 L102.98 367.91 L103.17 369.09 L103.36 370.21 L103.55 371.28 L103.75 372.30 L103.94 373.27 L104.13 374.18 L104.32 375.06 L104.51 375.89 L104.71 376.67 L104.90 377.42 L105.09 378.12 L105.28 378.78 L105.48 379.41 L105.67 379.99 L105.86 380.55 L106.05 381.07 L106.24 381.55 L106.44 382.00 L106.63 382.43 L106.82 382.82 L107.01 383.18 L107.21 383.52 L107.40 383.82 L107.59 384.10 L107.78 384.36 L107.97 384.59 L108.17 384.80 L108.36 384.98 L108.55 385.15 L108.74 385.29 L108.93 385.41 L109.13 385.51 L109.32 385.59 L109.51 385.65 L109.70 385.70 L109.90 385.73 L110.09 385.74 L110.28 385.73 L110.47 385.71 L110.66 385.68 L110.86 385.63 L111.05 385.57 L111.24 385.49 L111.43 385.40 L111.62 385.30 L111.82 385.18 L112.01 385.06 L112.20 384.92 L112.39 384.77 L112.59 384.62 L112.78 384.45 L112.97 384.27 L113.16 384.09 L113.35 383.89 L113.55 383.69 L113.74 383.48 L113.93 383.26 L114.12 383.04 L114.32 382.80 L114.51 382.56 L114.70 382.32 L114.89 382.07 L115.08 381.81 L115.28 381.54 L115.47 381.27 L115.66 381.00 L115.85 380.72 L116.04 380.44 L116.24 380.15 L116.43 379.86 L116.62 379.56 L116.81 379.26 L117.01 378.96 L117.20 378.65 L117.39 378.34 L117.58 378.03 L117.77 377.71 L117.97 377.39 L118.16 377.07 L118.35 376.75 L118.54 376.42 L118.74 376.09 L118.93 375.76 L119.12 375.43 L119.31 375.10 L119.50 374.76 L119.70 374.43 L119.89 374.09 L120.08 373.75 L120.27 373.41 L120.46 373.07 L120.66 372.73 L120.85 372.39 L121.04 372.05 L121.23 371.70 L121.43 371.36 L121.62 371.02 L121.81 370.68 L122.00 370.33 L122.19 369.99 L122.39 369.65 L122.58 369.30 L122.77 368.96 L122.96 368.62 L123.16 368.28 L123.35 367.93 L123.54 367.59 L123.73 367.25 L123.92 366.91 L124.12 366.57 L124.31 366.23 L124.50 365.90 L124.69 365.56 L124.88 365.23 L125.08 364.89 L125.27 364.56 L125.46 364.22 L125.65 363.89 L125.85 363.56 L126.04 363.23 L126.23 362.91 L126.42 362.58 L126.61 362.25 L126.81 361.93 L127.00 361.61 L127.19 361.29 L127.38 360.97 L127.57 360.65 L127.77 360.33 L127.96 360.02 L128.15 359.70 L128.34 359.39 L128.54 359.08 L128.73 358.77 L128.92 358.46 L129.11 358.16 L129.30 357.85 L129.50 357.55 L129.69 357.25 L129.88 356.95 L130.07 356.66 L130.27 356.36 L130.46 356.07 L130.65 355.78 L130.84 355.49 L131.03 355.20 L131.23 354.91 L131.42 354.63 L131.61 354.35 L131.80 354.07 L131.99 353.79 L132.19 353.51 L132.38 353.24 L132.57 352.97 L132.76 352.69 L132.96 352.43 L133.15 352.16 L133.34 351.89 L133.53 351.63 L133.72 351.37 L133.92 351.11 L134.11 350.85 L134.30 350.60 L134.49 350.34 L134.69 350.09 L134.88 349.84 L135.07 349.60 L135.26 349.35 L135.45 349.11 L135.65 348.87 L135.84 348.63 L136.03 348.39 L136.22 348.15 L136.41 347.92 L136.61 347.69 L136.80 347.46 L136.99 347.23 L137.18 347.00 L137.38 346.78 L137.57 346.56 L137.76 346.34 L137.95 346.12 L138.14 345.90 L138.34 345.69 L138.53 345.47 L138.72 345.26 L138.91 345.06 L139.10 344.85 L139.30 344.64 L139.49 344.44 L139.68 344.24 L139.87 344.04 L140.07 343.84 L140.26 343.65 L140.45 343.45 L140.64 343.26 L140.83 343.07 L141.03 342.88 L141.22 342.70 L141.41 342.51 L141.60 342.33 L141.80 342.15 L141.99 341.97 L142.18 341.79 L142.37 341.62 L142.56 341.44 L142.76 341.27 L142.95 341.10 L143.14 340.93 L143.33 340.77 L143.52 340.60 L143.72 340.44 L143.91 340.28 L144.10 340.12 L144.29 339.96 L144.49 339.80 L144.68 339.65 L144.87 339.50 L145.06 339.35 L145.25 339.20 L145.45 339.05 L145.64 338.90 L145.83 338.76 L146.02 338.61 L146.22 338.47 L146.41 338.33 L146.60 338.20 L146.79 338.06 L146.98 337.92 L147.18 337.79 L147.37 337.66 L147.56 337.53 L147.75 337.40 L147.94 337.27 L148.14 337.15 L148.33 337.02 L148.52 336.90 L148.71 336.78 L148.91 336.66 L149.10 336.54 L149.29 336.43 L149.48 336.31 L149.67 336.20 L149.87 336.09 L150.06 335.98 L150.25 335.87 L150.44 335.76 L150.63 335.65 L150.83 335.55 L151.02 335.45 L151.21 335.34 L151.40 335.24 L151.60 335.14 L151.79 335.05 L151.98 334.95 L152.17 334.85 L152.36 334.76 L152.56 334.67 L152.75 334.58 L152.94 334.49 L153.13 334.40 L153.33 334.31 L153.52 334.23 L153.71 334.14 L153.90 334.06 L154.09 333.98 L154.29 333.90 L154.48 333.82 L154.67 333.74 L154.86 333.66 L155.05 333.59 L155.25 333.51 L155.44 333.44 L155.63 333.37 L155.82 333.30 L156.02 333.23 L156.21 333.16 L156.40 333.09 L156.59 333.03 L156.78 332.96 L156.98 332.90 L157.17 332.83 L157.36 332.77 L157.55 332.71 L157.75 332.65 L157.94 332.60 L158.13 332.54 L158.32 332.48 L158.51 332.43 L158.71 332.37 L158.90 332.32 L159.09 332.27 L159.28 332.22 L159.47 332.17 L159.67 332.12 L159.86 332.08 L160.05 332.03 L160.24 331.98 L160.44 331.94 L160.63 331.90 L160.82 331.85 L161.01 331.81 L161.20 331.77 L161.40 331.73 L161.59 331.70 L161.78 331.66 L161.97 331.62 L162.16 331.59 L162.36 331.55 L162.55 331.52 L162.74 331.49 L162.93 331.45 L163.13 331.42 L163.32 331.39 L163.51 331.37 L163.70 331.34 L163.89 331.31 L164.09 331.28 L164.28 331.26 L164.47 331.24 L164.66 331.21 L164.86 331.19 L165.05 331.17 L165.24 331.15 L165.43 331.13 L165.62 331.11 L165.82 331.09 L166.01 331.07 L166.20 331.05 L166.39 331.04 L166.58 331.02 L166.78 331.01 L166.97 331.00 L167.16 330.98 L167.35 330.97 L167.55 330.96 L167.74 330.95 L167.93 330.94 L169.37 330.89 L170.81 330.88 L172.24 330.91 L173.68 330.98 L175.12 331.08 L176.56 331.21 L177.99 331.38 L179.43 331.57 L180.87 331.79 L182.31 332.03 L183.74 332.30 L185.18 332.59 L186.62 332.90 L188.06 333.23 L189.50 333.58 L190.93 333.94 L192.37 334.32 L193.81 334.72 L195.25 335.13 L196.68 335.56 L198.12 336.00 L199.56 336.45 L201.00 336.91 L202.44 337.38 L203.87 337.86 L205.31 338.35 L206.75 338.84 L208.19 339.35 L209.62 339.86 L211.06 340.37 L212.50 340.90 L213.94 341.42 L215.37 341.96 L216.81 342.50 L218.25 343.04 L219.69 343.58 L221.13 344.13 L222.56 344.68 L224.00 345.24 L225.44 345.79 L226.88 346.35 L228.31 346.91 L229.75 347.47 L231.19 348.04 L232.63 348.60 L234.07 349.16 L235.50 349.73 L236.94 350.29 L238.38 350.86 L239.82 351.42 L241.25 351.99 L242.69 352.55 L244.13 353.12 L245.57 353.68 L247.00 354.24 L248.44 354.80 L249.88 355.36 L251.32 355.92 L252.76 356.48 L254.19 357.04 L255.63 357.59 L257.07 358.14 L258.51 358.69 L259.94 359.24 L261.38 359.79 L262.82 360.34 L264.26 360.88 L265.69 361.42 L267.13 361.96 L268.57 362.50 L270.01 363.04 L271.45 363.57 L272.88 364.10 L274.32 364.63 L275.76 365.16 L277.20 365.68 L278.63 366.20 L280.07 366.72 L281.51 367.24 L282.95 367.75 L284.39 368.26 L285.82 368.77 L287.26 369.28 L288.70 369.78 L290.14 370.28 L291.57 370.78 L293.01 371.28 L294.45 371.77 L295.89 372.26 L297.32 372.75 L298.76 373.23 L300.20 373.72 L301.64 374.20 L303.08 374.67 L304.51 375.15 L305.95 375.62 L307.39 376.09 L308.83 376.56 L310.26 377.02 L311.70 377.48 L313.14 377.94 L314.58 378.40 L316.02 378.85 L317.45 379.30 L318.89 379.75 L320.33 380.20 L321.77 380.64 L323.20 381.08 L324.64 381.52 L326.08 381.96 L327.52 382.39 L328.95 382.82 L330.39 383.25 L331.83 383.67 L333.27 384.10 L334.71 384.52 L336.14 384.93 L337.58 385.35 L339.02 385.76 L340.46 386.17 L341.89 386.58 L343.33 386.99 L344.77 387.39 L346.21 387.79 L347.64 388.19 L349.08 388.58 L350.52 388.98 L351.96 389.37 L353.40 389.76 L354.83 390.15 L356.27 390.53 L357.71 390.91 L359.15 391.29 L360.58 391.67 L362.02 392.04 L363.46 392.42 L364.90 392.79 L366.34 393.16 L367.77 393.52 L369.21 393.89 L370.65 394.25 L372.09 394.61 L373.52 394.97 L374.96 395.32 L376.40 395.68 L377.84 396.03 L379.27 396.38 L380.71 396.72 L382.15 397.07 L383.59 397.41 L385.03 397.75 L386.46 398.09 L387.90 398.43 L389.34 398.77 L390.78 399.10 L392.21 399.43 L393.65 399.76 L395.09 400.09 L396.53 400.41 L397.97 400.74 L399.40 401.06 L400.84 401.38 L402.28 401.70 L403.72 402.01 L405.15 402.33 L406.59 402.64 L408.03 402.95 L409.47 403.26 L410.90 403.57 L412.34 403.87 L413.78 404.18 L415.22 404.48 L416.66 404.78 L418.09 405.08 L419.53 405.37 L420.97 405.67 L422.41 405.96 L423.84 406.25 L425.28 406.54 L426.72 406.83 L428.16 407.12 L429.59 407.40 L431.03 407.69 L432.47 407.97 L433.91 408.25 L435.35 408.53 L436.78 408.81 L438.22 409.08 L439.66 409.36 L441.10 409.63 L442.53 409.90 L443.97 410.17 L445.41 410.44 L446.85 410.71 L448.29 410.97 L449.72 411.24 L451.16 411.50 L452.60 411.76 L454.04 412.02 L455.47 412.28 L456.91 412.54 L458.35 412.79 L459.79 413.05 L461.22 413.30 L462.66 413.55 L464.10 413.80 L465.54 414.05 L466.98 414.30 L468.41 414.54 L469.85 414.79 L471.29 415.03 L472.73 415.27 L474.16 415.51 L475.60 415.75 L477.04 415.99 L478.48 416.23 L479.92 416.46 L481.35 416.70 L482.79 416.93 L484.23 417.16 L485.67 417.39 L487.10 417.62 L488.54 417.85 L489.98 418.08 L491.42 418.31 L492.85 418.53 L494.29 418.76 L495.73 418.98 L497.17 419.20 L498.61 419.42 L500.04 419.64 L501.48 419.86 L502.92 420.08 L504.36 420.29 L505.79 420.51 L507.23 420.72 L508.67 420.93 L510.11 421.14 L511.54 421.36 L512.98 421.56 L514.42 421.77 L515.86 421.98 L517.30 422.19 L518.73 422.39 L520.17 422.60 L521.61 422.80 L523.05 423.00 L524.48 423.20 L525.92 423.40 L527.36 423.60 L528.80 423.80 L530.24 424.00 L531.67 424.20 L533.11 424.39 L534.55 424.59 L535.99 424.78 L537.42 424.97 L538.86 425.17 L540.30 425.36 L541.74 425.55 L543.17 425.74 L544.61 425.92 L546.05 426.11 L547.49 426.30 L548.93 426.48 L550.36 426.67 L551.80 426.85 L553.24 427.03 L554.68 427.22 L556.11 427.40 L557.55 427.58 L558.99 427.76 L560.43 427.94 L561.87 428.11 L563.30 428.29 L564.74 428.47 L566.18 428.64 L567.62 428.82 L569.05 428.99 L570.49 429.16 L571.93 429.33 L573.37 429.51 L574.80 429.68 L576.24 429.85 L577.68 430.02 L579.12 430.18 L580.56 430.35 L581.99 430.52 L583.43 430.68 L584.87 430.85 L586.31 431.01 L587.74 431.18 L589.18 431.34 L590.62 431.50 L592.06 431.66 L593.49 431.82 L594.93 431.98 L596.37 432.14 L597.81 432.30 L599.25 432.46 L600.68 432.62 L602.12 432.77 L603.56 432.93 L605.00 433.08 L606.43 433.24 L607.87 433.39 L609.31 433.55 L610.75 433.70 L612.19 433.85 L613.62 434.00 L615.06 434.15 L616.50 434.30 L617.94 434.45 L619.37 434.60 L620.81 434.75 L622.25 434.89 L623.69 435.04 L625.12 435.19 L626.56 435.33 L628.00 435.48 L629.44 435.62 L630.88 435.77 L632.31 435.91 L633.75 436.05 L635.19 436.19 L636.63 436.33 L638.06 436.47 L639.50 436.61 L640.94 436.75 L642.38 436.89 L643.82 437.03 L645.25 437.17 L646.69 437.31 L648.13 437.44 L649.57 437.58 L651.00 437.71 L652.44 437.85 L653.88 437.98 L655.32 438.12 L656.75 438.25 L658.19 438.38 L659.63 438.51 L661.07 438.65 L662.51 438.78 L663.94 438.91 L665.38 439.04 L666.82 439.17 L668.26 439.30 L669.69 439.42 L671.13 439.55 L672.57 439.68 L674.01 439.81 L675.44 439.93 L676.88 440.06 L678.32 440.18 L679.76 440.31 L681.20 440.43 L682.63 440.56 L684.07 440.68 L685.51 440.80 L686.95 440.92 L688.38 441.05 L689.82 441.17 L691.26 441.29 L692.70 441.41 L694.14 441.53 L695.57 441.65 L697.01 441.77 L698.45 441.89 L699.89 442.00 L701.32 442.12 L702.76 442.24 L704.20 442.36 L705.64 442.47 L707.07 442.59 L708.51 442.70 L709.95 442.82 L711.39 442.93 L712.83 443.05 L714.26 443.16 L715.70 443.27 L717.14 443.39 L718.58 443.50 L720.01 443.61 L721.45 443.72 L722.89 443.83 L724.33 443.95 L725.77 444.06 L727.20 444.17 L728.64 444.27 L730.08 444.38 L731.52 444.49 L732.95 444.60 L734.39 444.71 L735.83 444.82 L737.27 444.92 L738.70 445.03 L740.14 445.14 L741.58 445.24"/>
</g></g>
<g stroke="#111" fill="none">
<path stroke-width="1.25" d="M53.40 41 V484 M39.1 462.00 H756"/>
<path stroke-width="1.2" d="M76.24 462.00 v-5.0 M99.19 462.00 v-5.0 M122.13 462.00 v-5.0 M145.08 462.00 v-5.0 M168.02 462.00 v-8.6 M190.96 462.00 v-5.0 M213.91 462.00 v-5.0 M236.85 462.00 v-5.0 M259.80 462.00 v-5.0 M282.74 462.00 v-8.6 M305.68 462.00 v-5.0 M328.63 462.00 v-5.0 M351.57 462.00 v-5.0 M374.52 462.00 v-5.0 M397.46 462.00 v-8.6 M420.40 462.00 v-5.0 M443.35 462.00 v-5.0 M466.29 462.00 v-5.0 M489.24 462.00 v-5.0 M512.18 462.00 v-8.6 M535.12 462.00 v-5.0 M558.07 462.00 v-5.0 M581.01 462.00 v-5.0 M603.96 462.00 v-5.0 M626.90 462.00 v-8.6 M649.84 462.00 v-5.0 M672.79 462.00 v-5.0 M695.73 462.00 v-5.0 M718.68 462.00 v-5.0 M741.62 462.00 v-8.6 M53.40 475.25 h5.3 M53.40 461.92 h5.3 M53.40 448.59 h5.3 M53.40 435.26 h8.5 M53.40 421.93 h5.3 M53.40 408.60 h5.3 M53.40 395.27 h5.3 M53.40 381.94 h5.3 M53.40 368.61 h8.5 M53.40 355.28 h5.3 M53.40 341.94 h5.3 M53.40 328.61 h5.3 M53.40 315.28 h5.3 M53.40 301.95 h8.5 M53.40 288.62 h5.3 M53.40 275.29 h5.3 M53.40 261.96 h5.3 M53.40 248.63 h5.3 M53.40 235.30 h8.5 M53.40 221.97 h5.3 M53.40 208.64 h5.3 M53.40 195.31 h5.3 M53.40 181.98 h5.3 M53.40 168.65 h8.5 M53.40 155.32 h5.3 M53.40 141.99 h5.3 M53.40 128.66 h5.3 M53.40 115.32 h5.3 M53.40 101.99 h8.5 M53.40 88.66 h5.3 M53.40 75.33 h5.3 M53.40 62.00 h5.3 M53.40 48.67 h5.3"/>
</g>
<g class="tk">
<g transform="translate(168.72 492.35) scale(0.985 1.045)"><text text-anchor="middle">1</text><rect x="-6.21" y="-3.83" width="5.12" height="4.19" fill="#fff"/><rect x="2.27" y="-3.83" width="4.80" height="4.19" fill="#fff"/></g>
<g transform="translate(282.74 492.35) scale(0.985 1.045)"><text text-anchor="middle">2</text></g>
<g transform="translate(397.46 492.35) scale(0.985 1.045)"><text text-anchor="middle">3</text></g>
<g transform="translate(512.18 492.35) scale(0.985 1.045)"><text text-anchor="middle">4</text></g>
<g transform="translate(626.90 492.35) scale(0.985 1.045)"><text text-anchor="middle">5</text></g>
<g transform="translate(741.62 492.35) scale(0.985 1.045)"><text text-anchor="middle">6</text></g>
<g transform="translate(46.90 443.66) scale(0.985 1.045)"><text text-anchor="end">0.05</text></g>
<g transform="translate(46.90 377.01) scale(0.985 1.045)"><text text-anchor="end">0.10</text><rect x="-26.65" y="-3.83" width="5.12" height="4.19" fill="#fff"/><rect x="-18.17" y="-3.83" width="4.80" height="4.19" fill="#fff"/></g>
<g transform="translate(46.90 310.35) scale(0.985 1.045)"><text text-anchor="end">0.15</text><rect x="-26.65" y="-3.83" width="5.12" height="4.19" fill="#fff"/><rect x="-18.17" y="-3.83" width="4.80" height="4.19" fill="#fff"/></g>
<g transform="translate(46.90 243.70) scale(0.985 1.045)"><text text-anchor="end">0.20</text></g>
<g transform="translate(46.90 177.05) scale(0.985 1.045)"><text text-anchor="end">0.25</text></g>
<g transform="translate(46.90 110.39) scale(0.985 1.045)"><text text-anchor="end">0.30</text></g>
<g transform="translate(53.60 20.50) scale(1.0 1.045)"><text text-anchor="middle">P</text></g>
<g transform="translate(774.00 470.30) scale(0.945 0.98)"><text text-anchor="start">v</text></g>
</g>
<g class="lb">
<text transform="translate(192.30 144.90) scale(1.0 1.06)">T</text>
<text transform="translate(208.80 145.80) scale(0.95 1.0)">&gt;</text>
<text transform="translate(227.10 144.90) scale(1.0 1.06)">T</text>
<text transform="translate(237.80 148.50) scale(1.0 1.03)" class="sb">c</text>
<text transform="translate(190.60 255.50) scale(1.0 1.06)">T</text>
<text transform="translate(207.20 254.00) scale(1.27 0.9)">=</text>
<text transform="translate(228.90 255.50) scale(1.0 1.06)">T</text>
<text transform="translate(239.60 259.10) scale(1.0 1.03)" class="sb">c</text>
<text transform="translate(192.40 335.70) scale(1.0 1.06)">T</text>
<text transform="translate(208.90 336.60) scale(0.95 1.0)">&lt;</text>
<text transform="translate(227.50 335.70) scale(1.0 1.06)">T</text>
<text transform="translate(238.20 339.30) scale(1.0 1.03)" class="sb">c</text>
<text transform="translate(192.40 366.50) scale(1.0 1.06)">T</text>
<text transform="translate(208.90 367.40) scale(0.95 1.0)">&lt;</text>
<text transform="translate(227.50 366.50) scale(1.0 1.06)">T</text>
<text transform="translate(238.20 370.10) scale(1.0 1.03)" class="sb">c</text>
</g>
</svg>
</body></html>
